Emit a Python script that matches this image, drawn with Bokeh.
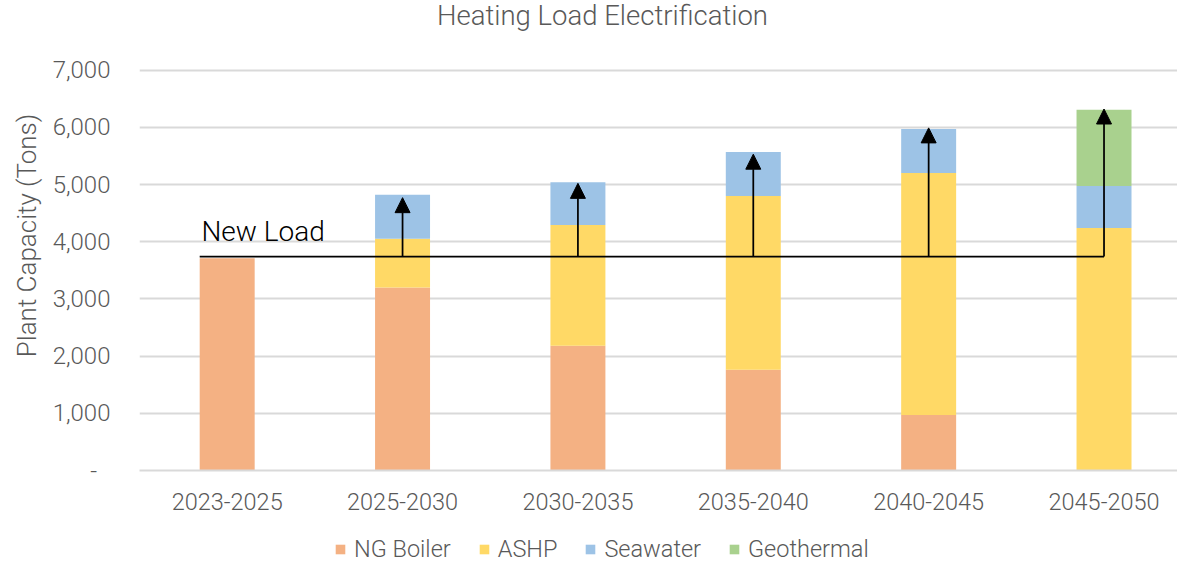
from bokeh.plotting import figure
from bokeh.layouts import column
from bokeh.models import (ColumnDataSource, FixedTicker, Range1d, Legend, LegendItem,
                          Arrow, NormalHead, NumeralTickFormatter)
from bokeh.core.properties import value
from bokeh.embed import file_html
from bokeh.resources import INLINE

# ---- data ----
categories = ["2023-2025", "2025-2030", "2030-2035", "2035-2040", "2040-2045", "2045-2050"]
ng_boiler = [3710, 3200, 2180, 1760, 970, 0]
ashp = [0, 850, 2110, 3040, 4230, 4240]
seawater = [0, 770, 750, 770, 770, 735]
geothermal = [0, 0, 0, 0, 0, 1330]
series_names = ["NG Boiler", "ASHP", "Seawater", "Geothermal"]
new_load = 3740
arrow_categories = ["2025-2030", "2030-2035", "2035-2040", "2040-2045", "2045-2050"]
arrow_tops = [4770, 5020, 5530, 5990, 6320]
y_ticks = [0, 1000, 2000, 3000, 4000, 5000, 6000, 7000]
title_text = "Heating Load Electrification"

colors = ["#F4B183", "#FFD966", "#9DC3E6", "#A9D18E"]
TEXT = "#595959"
FONT = "Roboto Light"
bar_width = 0.3135

xs = list(range(len(categories)))
source = ColumnDataSource(dict(x=xs, **{"NG Boiler": ng_boiler, "ASHP": ashp,
                                        "Seawater": seawater, "Geothermal": geothermal}))

# frame spans from the very top (room for the title) down to the category axis
p = figure(width=1177, height=515, output_backend="svg", toolbar_location=None,
           x_range=Range1d(-0.5, 5.419), y_range=Range1d(0, 8217),
           min_border_left=139, min_border_right=0, min_border_top=0, min_border_bottom=45)
p.outline_line_color = None

renderers = p.vbar_stack(series_names, x="x", width=bar_width, source=source,
                         color=colors, line_color=None)

# title
p.text(x=[2.14], y=[7950], text=[title_text], text_font=value(FONT), text_font_size="27.5px",
       text_color=TEXT, text_align="center", text_baseline="middle")

# New load line
p.line(x=[xs[0] - bar_width / 2, xs[-1]], y=[new_load, new_load], line_color="black", line_width=1.75)

# arrows
ax = [categories.index(c) for c in arrow_categories]
arrow_src = ColumnDataSource(dict(x0=ax, y0=[new_load] * len(ax), x1=ax, y1=arrow_tops))
p.add_layout(Arrow(end=NormalHead(size=15, fill_color="black", line_color="black", line_width=1),
                   x_start="x0", y_start="y0", x_end="x1", y_end="y1",
                   line_color="black", line_width=1.75, source=arrow_src))

p.text(x=[xs[0] - bar_width / 2 + 0.01], y=[new_load + 430], text=["New Load"],
       text_font=value(FONT), text_font_size="28px", text_color="black",
       text_baseline="middle", text_align="left")

# axes
p.xaxis.ticker = FixedTicker(ticks=xs)
p.xaxis.major_label_overrides = {i: c for i, c in enumerate(categories)}
p.xaxis.major_tick_line_color = None
p.xaxis.minor_tick_line_color = None
p.xaxis.axis_line_color = "#D9D9D9"
p.xaxis.axis_line_width = 2
p.xaxis.major_label_text_font = FONT
p.xaxis.major_label_text_font_size = "23.5px"
p.xaxis.major_label_text_color = TEXT
p.xaxis.major_label_standoff = 16

p.yaxis.ticker = FixedTicker(ticks=y_ticks)
p.yaxis.formatter = NumeralTickFormatter(format="0,0")
p.yaxis.major_label_overrides = {0: "-\u2007"}
p.yaxis.major_tick_line_color = None
p.yaxis.minor_tick_line_color = None
p.yaxis.axis_line_color = None
p.yaxis.major_label_text_font = FONT
p.yaxis.major_label_text_font_size = "24px"
p.yaxis.major_label_text_color = TEXT
p.yaxis.major_label_standoff = 23
p.yaxis.axis_label = "Plant Capacity (Tons)"
p.yaxis.axis_label_text_font = FONT
p.yaxis.axis_label_text_font_size = "26px"
p.yaxis.axis_label_text_font_style = "normal"
p.yaxis.axis_label_text_color = TEXT
p.yaxis.axis_label_standoff = 8

p.xgrid.grid_line_color = None
p.ygrid.grid_line_color = "#D9D9D9"
p.ygrid.grid_line_width = 2

# ---- legend strip below the chart ----
# the strip's ranges lie far away from the data, so its renderers only supply legend swatches
lg = figure(width=1177, height=48, output_backend="svg", toolbar_location=None,
            x_range=Range1d(1000, 1001), y_range=Range1d(100000, 100001),
            x_axis_location=None, y_axis_location=None,
            min_border_left=139, min_border_right=0, min_border_top=0, min_border_bottom=0)
lg.outline_line_color = None
lg.xgrid.grid_line_color = None
lg.ygrid.grid_line_color = None
legend_renderers = [lg.vbar(x="x", top=n, width=bar_width, source=source, color=c, line_color=None)
                    for n, c in zip(series_names, colors)]
legend = Legend(items=[LegendItem(label=n, renderers=[r]) for n, r in zip(series_names, legend_renderers)],
                orientation="horizontal", location=(195, 0),
                glyph_width=12, glyph_height=12, label_height=20, label_standoff=8,
                spacing=27, padding=0, margin=0,
                border_line_color=None, background_fill_alpha=0,
                label_text_font=FONT, label_text_font_size="23.5px", label_text_color=TEXT)
lg.add_layout(legend, "center")

layout = column(p, lg, spacing=0)
open("out.html", "w").write(file_html(layout, INLINE))
